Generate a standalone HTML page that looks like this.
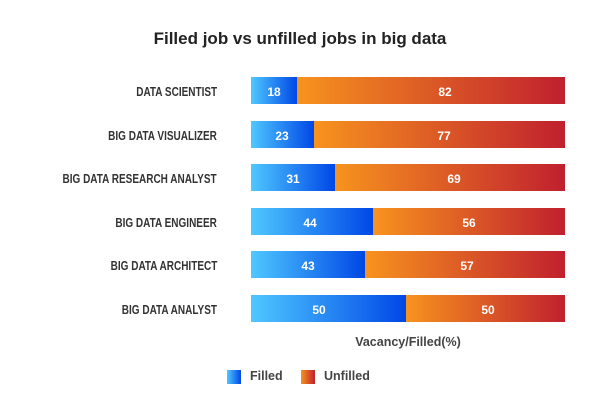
<!DOCTYPE html>
<html><head><style>
body{margin:0;width:600px;height:401px;background:#fff;font-family:"Liberation Sans",Arial,sans-serif;position:relative;overflow:hidden}
.t{position:absolute;left:0;width:600px;top:29px;text-align:center;font-size:17px;font-weight:bold;color:#222}
.lab{position:absolute;right:383px;font-size:12.5px;font-weight:bold;color:#333;white-space:nowrap;line-height:31px;transform:scaleX(0.8);transform-origin:right center}
.bar{position:absolute;left:251px;width:314px;height:27px;display:flex}
.f{height:27px;background:linear-gradient(90deg,#4fc8ff,#0047e6)}
.u{height:27px;flex:1;background:linear-gradient(90deg,#f7931e,#c0202e)}
.v{position:absolute;top:2px;line-height:27px;color:#fff;font-weight:bold;font-size:12px;transform:translateX(-50%)}
.ax{position:absolute;left:308px;width:200px;text-align:center;top:335px;font-size:12.5px;font-weight:bold;color:#444}
.lg{position:absolute;top:370px;width:14px;height:14px}
.lt{position:absolute;top:369px;font-size:12.5px;font-weight:bold;color:#444}
</style></head><body>
<div class="t">Filled job vs unfilled jobs in big data</div>

<div class="lab" style="top:77px">DATA SCIENTIST</div>
<div class="bar" style="top:77px"><div class="f" style="width:46px"></div><div class="u"></div><span class="v" style="left:23px">18</span><span class="v" style="left:194px">82</span></div>

<div class="lab" style="top:121px">BIG DATA VISUALIZER</div>
<div class="bar" style="top:121px"><div class="f" style="width:63px"></div><div class="u"></div><span class="v" style="left:31px">23</span><span class="v" style="left:193px">77</span></div>

<div class="lab" style="top:164px">BIG DATA RESEARCH ANALYST</div>
<div class="bar" style="top:164px"><div class="f" style="width:84px"></div><div class="u"></div><span class="v" style="left:42px">31</span><span class="v" style="left:203px">69</span></div>

<div class="lab" style="top:208px">BIG DATA ENGINEER</div>
<div class="bar" style="top:208px"><div class="f" style="width:122px"></div><div class="u"></div><span class="v" style="left:59px">44</span><span class="v" style="left:218px">56</span></div>

<div class="lab" style="top:251px">BIG DATA ARCHITECT</div>
<div class="bar" style="top:251px"><div class="f" style="width:114px"></div><div class="u"></div><span class="v" style="left:57px">43</span><span class="v" style="left:216px">57</span></div>

<div class="lab" style="top:295px">BIG DATA ANALYST</div>
<div class="bar" style="top:295px"><div class="f" style="width:155px"></div><div class="u"></div><span class="v" style="left:68px">50</span><span class="v" style="left:237px">50</span></div>

<div class="ax">Vacancy/Filled(%)</div>
<div class="lg" style="left:227px;background:linear-gradient(90deg,#4fc8ff,#0047e6)"></div>
<div class="lt" style="left:250px">Filled</div>
<div class="lg" style="left:301px;background:linear-gradient(90deg,#f7931e,#c0202e)"></div>
<div class="lt" style="left:324px">Unfilled</div>
</body></html>
